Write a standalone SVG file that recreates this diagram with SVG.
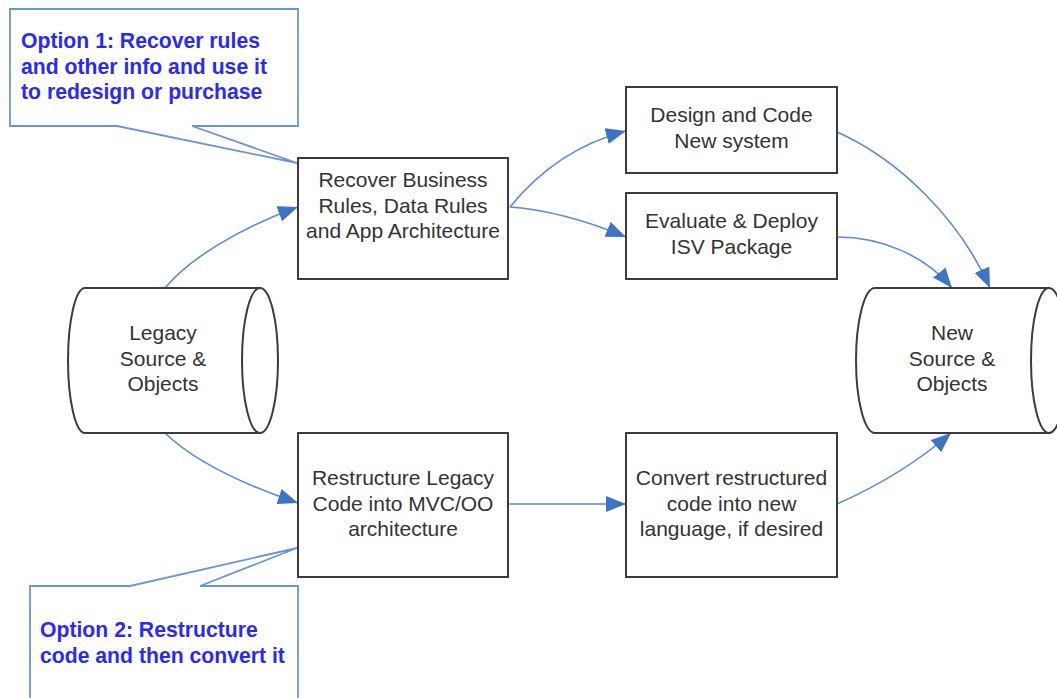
<svg xmlns="http://www.w3.org/2000/svg" width="1057" height="698" viewBox="0 0 1057 698">
<style>
.box{fill:#fff;stroke:#3c3c3c;stroke-width:2}
.cyl{fill:#fff;stroke:#3c3c3c;stroke-width:2}
.t{font-family:"Liberation Sans",Arial,sans-serif;font-size:21px;fill:#333;text-anchor:middle}
.call{fill:#fff;stroke:#6b95d5;stroke-width:1.8}
.ct{font-family:"Liberation Sans",Arial,sans-serif;font-size:21.2px;font-weight:bold;fill:#2a2af2}
.c{fill:none;stroke:#5b8bd2;stroke-width:1.6}
</style>
<defs>
<marker id="ah" markerUnits="userSpaceOnUse" markerWidth="22" markerHeight="16" refX="20" refY="8" orient="auto">
<path d="M0,0 L20,8 L0,16 Z" fill="#3e73c6"/>
</marker>
</defs>
<g id="callout1">
<path class="call" d="M10,9 L298,9 L298,126 L192,126 L297,163 L117,126 L10,126 Z"/>
<text class="ct" x="21" y="48">Option 1: Recover rules</text>
<text class="ct" x="21" y="73.5">and other info and use it</text>
<text class="ct" x="21" y="99">to redesign or purchase</text>
</g>
<g id="callout2">
<path class="call" d="M30,705 L30,586 L130,586 L297,548 L200,586 L298,586 L298,705"/>
<text class="ct" x="40" y="637">Option 2: Restructure</text>
<text class="ct" x="40" y="662.5">code and then convert it</text>
</g>
<g id="connectors">
<path class="c" marker-end="url(#ah)" d="M165,288 C190,258 240,228 298,207"/>
<path class="c" marker-end="url(#ah)" d="M165,433 C195,462 245,485 298,503"/>
<path class="c" marker-end="url(#ah)" d="M510,207 C540,170 580,143 626,131"/>
<path class="c" marker-end="url(#ah)" d="M510,207 C550,210 590,222 626,237"/>
<path class="c" marker-end="url(#ah)" d="M837,132 C900,160 960,220 990,288"/>
<path class="c" marker-end="url(#ah)" d="M837,237 C880,237 925,255 952,288"/>
<path class="c" marker-end="url(#ah)" d="M508,504 L626,504"/>
<path class="c" marker-end="url(#ah)" d="M837,504 C880,485 920,460 951,433"/>
</g>
<g id="legacy">
<path class="cyl" d="M85,288 L260,288 A18,72.5 0 0 1 260,433 L85,433 A17,72.5 0 0 1 85,288 Z"/>
<path class="cyl" d="M260,288 A18,72.5 0 0 0 260,433"/>
<text class="t" x="163" y="340">Legacy</text>
<text class="t" x="163" y="365.5">Source &amp;</text>
<text class="t" x="163" y="391">Objects</text>
</g>
<g id="newsrc">
<path class="cyl" d="M875,288 L1049,288 A18,72.5 0 0 1 1049,433 L875,433 A19,72.5 0 0 1 875,288 Z"/>
<path class="cyl" d="M1049,288 A18,72.5 0 0 0 1049,433"/>
<text class="t" x="952" y="340">New</text>
<text class="t" x="952" y="365.5">Source &amp;</text>
<text class="t" x="952" y="391">Objects</text>
</g>
<g id="recover">
<rect class="box" x="298" y="158" width="210" height="121"/>
<text class="t" x="403" y="187">Recover Business</text>
<text class="t" x="403" y="212.5">Rules, Data Rules</text>
<text class="t" x="403" y="238">and App Architecture</text>
</g>
<g id="design">
<rect class="box" x="626" y="87" width="211" height="86"/>
<text class="t" x="731.5" y="122">Design and Code</text>
<text class="t" x="731.5" y="148">New system</text>
</g>
<g id="evaluate">
<rect class="box" x="626" y="193" width="211" height="86"/>
<text class="t" x="731.5" y="228">Evaluate &amp; Deploy</text>
<text class="t" x="731.5" y="254">ISV Package</text>
</g>
<g id="restructure">
<rect class="box" x="298" y="433" width="210" height="144"/>
<text class="t" x="403" y="485">Restructure Legacy</text>
<text class="t" x="403" y="510.5">Code into MVC/OO</text>
<text class="t" x="403" y="536">architecture</text>
</g>
<g id="convert">
<rect class="box" x="626" y="433" width="211" height="144"/>
<text class="t" x="731.5" y="485">Convert restructured</text>
<text class="t" x="731.5" y="510.5">code into new</text>
<text class="t" x="731.5" y="536">language, if desired</text>
</g>
</svg>
